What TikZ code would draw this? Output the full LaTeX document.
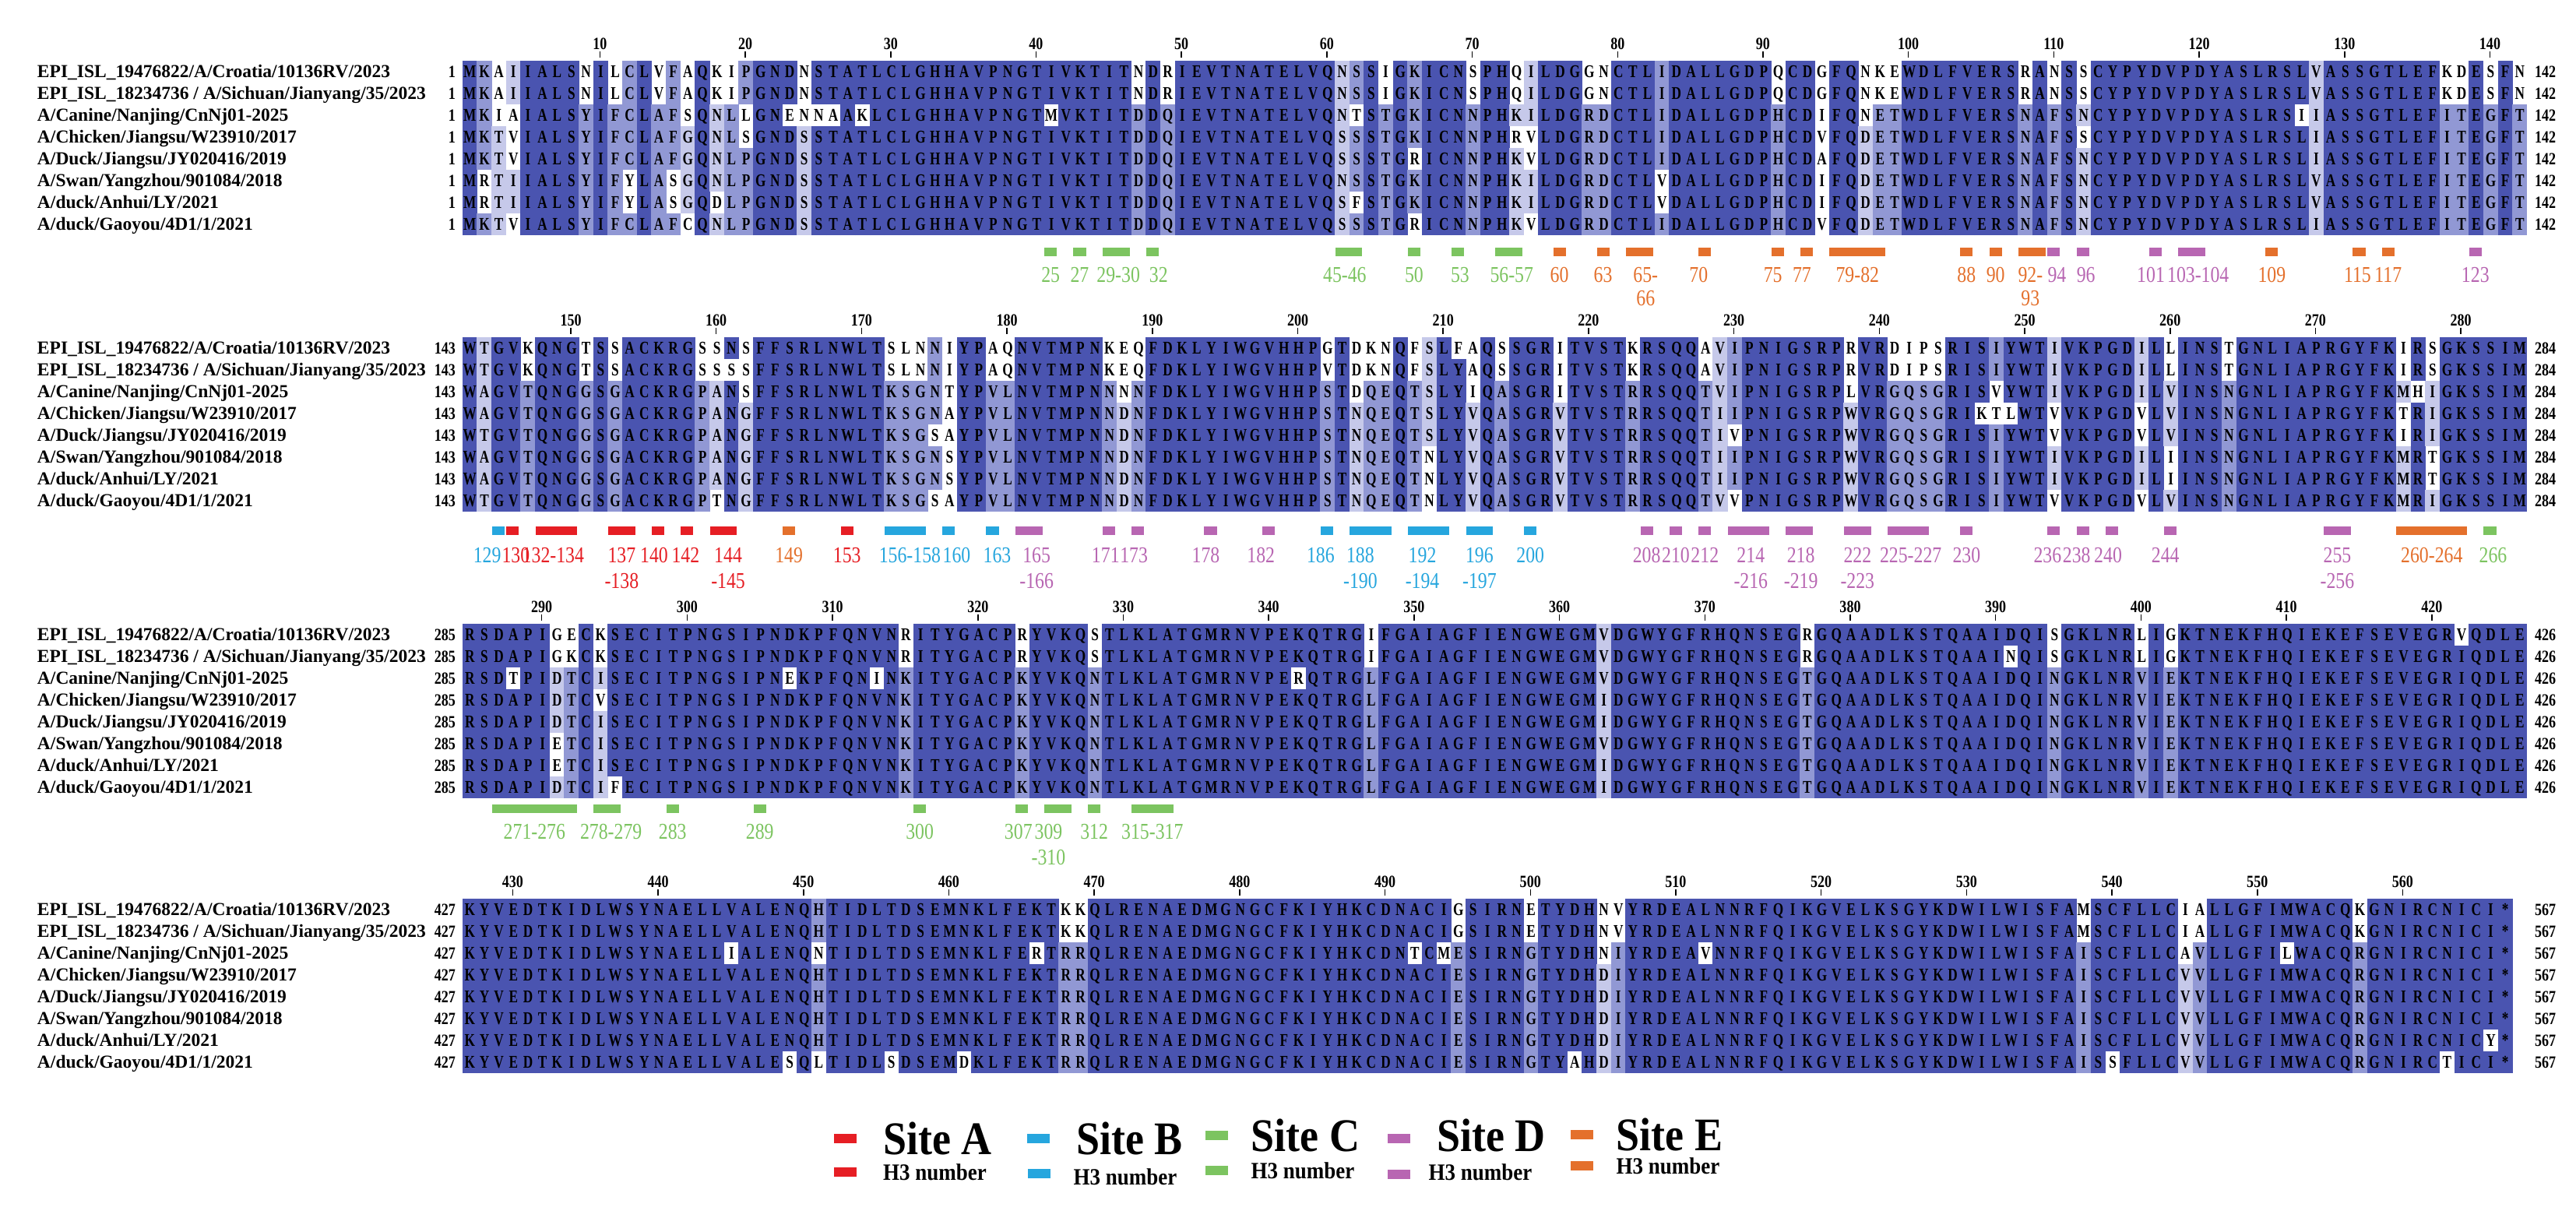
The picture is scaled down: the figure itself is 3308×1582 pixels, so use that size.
\documentclass[tikz,border=0pt]{standalone}
\usepackage{fontspec}
\setmainfont{Liberation Serif}
\newfontfamily\resfont{Liberation Serif}[FakeStretch=0.75]
\newfontfamily\lblfont{Liberation Serif}[FakeStretch=0.82]
\newfontfamily\legfont{Liberation Serif}[FakeStretch=0.9]
\usetikzlibrary{positioning}

\definecolor{alnDark}{RGB}{74,84,176}
\definecolor{alnMid}{RGB}{145,152,212}
\definecolor{alnLight}{RGB}{198,201,234}
\definecolor{siteA}{RGB}{230,30,36}
\definecolor{siteB}{RGB}{38,166,222}
\definecolor{siteC}{RGB}{124,196,96}
\definecolor{siteD}{RGB}{184,102,178}
\definecolor{siteE}{RGB}{228,112,44}

\tikzset{
    x=0.2pt, y=-0.2pt, % one unit is one pixel of the figure, y grows downwards
    res/.style={font=\resfont\bfseries\fontsize{4.6pt}{4.6pt}\selectfont, inner sep=0pt, anchor=base west}, % one row of residues
    seqname/.style={font=\bfseries\fontsize{4.7pt}{4.7pt}\selectfont, inner sep=0pt, anchor=base west}, % strain names
    numlbl/.style={font=\lblfont\bfseries\fontsize{4.4pt}{4.4pt}\selectfont, inner sep=0pt}, % alignment positions
    sitelbl/.style={font=\lblfont\fontsize{5.8pt}{5.8pt}\selectfont, inner sep=0pt}, % H3 numbers under the bars
    tick/.style={line width=0.3pt},
    legbar/.style={minimum width=5.8pt, minimum height=2.3pt, inner sep=0pt}, % legend swatch
    legsite/.style={font=\legfont\bfseries\fontsize{12pt}{12pt}\selectfont, inner sep=0pt},
    legnum/.style={font=\legfont\bfseries\fontsize{6pt}{6pt}\selectfont, inner sep=0pt},
}

% residues are kept one per macro: \alnrow{row}{block}{residues}
\ExplSyntaxOn
\int_new:N \l_aln_col_int
\int_new:N \l_aln_cnt_int
\NewDocumentCommand \alnrow { m m m }
  {
    \int_zero:N \l_aln_col_int
    \tl_map_inline:nn {#3}
      {
        \int_incr:N \l_aln_col_int
        \tl_gset:cn { g_aln_#1_#2_ \int_use:N \l_aln_col_int _tl } {##1}
      }
  }
\cs_new:Npn \resat #1#2#3 { \tl_use:c { g_aln_#3_#1_#2_tl } }
% shading of one cell from how many rows share its residue
\cs_new_protected:Npn \resshade #1#2#3
  {
    \int_zero:N \l_aln_cnt_int
    \int_step_inline:nn { 8 }
      {
        \tl_if_eq:ccT { g_aln_#3_#1_#2_tl } { g_aln_##1_#1_#2_tl }
          { \int_incr:N \l_aln_cnt_int }
      }
    \int_compare:nNnTF \l_aln_cnt_int > 6
      { \tl_set:Nn \resfill {alnDark} }
      {
        \int_compare:nNnTF \l_aln_cnt_int = 6
          { \tl_set:Nn \resfill {alnMid} }
          {
            \int_compare:nNnTF \l_aln_cnt_int > 3
              { \tl_set:Nn \resfill {alnLight} }
              { \tl_set:Nn \resfill {} }
          }
      }
  }
% one shaded row: \alnline{block}{row}{columns}
\NewDocumentCommand \alnline { m m m }
  {
    \int_step_inline:nn {#3}
      {
        \resshade {#1} {##1} {#2}
        \hbox_to_wd:nn { 3.734pt }
          {
            \tl_if_empty:NF \resfill
              {
                \hbox_overlap_right:n
                  { \kern -0.05pt \color{\resfill} \rule[-1.22pt]{3.834pt}{5.66pt} }
              }
            \hfil \resat {#1} {##1} {#2} \hfil
          }
      }
  }
\ExplSyntaxOff

\alnrow{1}{1}{MKAIIALSNILCLVFAQKIPGNDNSTATLCLGHHAVPNGTIVKTITNDRIEVTNATELVQNSSIGKICNSPHQILDGGNCTLIDALLGDPQCDGFQNKEWDLFVERSRANSSCYPYDVPDYASLRSLVASSGTLEFKDESFN}
\alnrow{2}{1}{MKAIIALSNILCLVFAQKIPGNDNSTATLCLGHHAVPNGTIVKTITNDRIEVTNATELVQNSSIGKICNSPHQILDGGNCTLIDALLGDPQCDGFQNKEWDLFVERSRANSSCYPYDVPDYASLRSLVASSGTLEFKDESFN}
\alnrow{3}{1}{MKIAIALSYIFCLAFSQNLLGNENNAAKLCLGHHAVPNGTMVKTITDDQIEVTNATELVQNTSTGKICNNPHKILDGRDCTLIDALLGDPHCDIFQNETWDLFVERSNAFSNCYPYDVPDYASLRSIIASSGTLEFITEGFT}
\alnrow{4}{1}{MKTVIALSYIFCLAFGQNLSGNDSSTATLCLGHHAVPNGTIVKTITDDQIEVTNATELVQSSSTGKICNNPHRVLDGRDCTLIDALLGDPHCDVFQDETWDLFVERSNAFSSCYPYDVPDYASLRSLIASSGTLEFITEGFT}
\alnrow{5}{1}{MKTVIALSYIFCLAFGQNLPGNDSSTATLCLGHHAVPNGTIVKTITDDQIEVTNATELVQSSSTGRICNNPHKVLDGRDCTLIDALLGDPHCDAFQDETWDLFVERSNAFSNCYPYDVPDYASLRSLIASSGTLEFITEGFT}
\alnrow{6}{1}{MRTIIALSYIFYLASGQNLPGNDSSTATLCLGHHAVPNGTIVKTITDDQIEVTNATELVQNSSTGKICNNPHKILDGRDCTLVDALLGDPHCDIFQDETWDLFVERSNAFSNCYPYDVPDYASLRSLVASSGTLEFITEGFT}
\alnrow{7}{1}{MRTIIALSYIFYLASGQDLPGNDSSTATLCLGHHAVPNGTIVKTITDDQIEVTNATELVQSFSTGKICNNPHKILDGRDCTLVDALLGDPHCDIFQDETWDLFVERSNAFSNCYPYDVPDYASLRSLVASSGTLEFITEGFT}
\alnrow{8}{1}{MKTVIALSYIFCLAFCQNLPGNDSSTATLCLGHHAVPNGTIVKTITDDQIEVTNATELVQSSSTGRICNNPHKVLDGRDCTLIDALLGDPHCDVFQDETWDLFVERSNAFSNCYPYDVPDYASLRSLIASSGTLEFITEGFT}

\alnrow{1}{2}{WTGVKQNGTSSACKRGSSNSFFSRLNWLTSLNNIYPAQNVTMPNKEQFDKLYIWGVHHPGTDKNQFSLFAQSSGRITVSTKRSQQAVIPNIGSRPRVRDIPSRISIYWTIVKPGDILLINSTGNLIAPRGYFKIRSGKSSIM}
\alnrow{2}{2}{WTGVKQNGTSSACKRGSSSSFFSRLNWLTSLNNIYPAQNVTMPNKEQFDKLYIWGVHHPVTDKNQFSLYAQSSGRITVSTKRSQQAVIPNIGSRPRVRDIPSRISIYWTIVKPGDILLINSTGNLIAPRGYFKIRSGKSSIM}
\alnrow{3}{2}{WAGVTQNGGSGACKRGPANSFFSRLNWLTKSGNTYPVLNVTMPNNNNFDKLYIWGVHHPSTDQEQTSLYIQASGRITVSTRRSQQTVIPNIGSRPLVRGQSGRISVYWTIVKPGDILVINSNGNLIAPRGYFKMHIGKSSIM}
\alnrow{4}{2}{WAGVTQNGGSGACKRGPANGFFSRLNWLTKSGNAYPVLNVTMPNNDNFDKLYIWGVHHPSTNQEQTSLYVQASGRVTVSTRRSQQTIIPNIGSRPWVRGQSGRIKTLWTVVKPGDVLVINSNGNLIAPRGYFKTRIGKSSIM}
\alnrow{5}{2}{WTGVTQNGGSGACKRGPANGFFSRLNWLTKSGSAYPVLNVTMPNNDNFDKLYIWGVHHPSTNQEQTSLYVQASGRVTVSTRRSQQTIVPNIGSRPWVRGQSGRISIYWTVVKPGDVLVINSNGNLIAPRGYFKIRIGKSSIM}
\alnrow{6}{2}{WAGVTQNGGSGACKRGPANGFFSRLNWLTKSGNSYPVLNVTMPNNDNFDKLYIWGVHHPSTNQEQTNLYVQASGRVTVSTRRSQQTIIPNIGSRPWVRGQSGRISIYWTIVKPGDILIINSNGNLIAPRGYFKMRTGKSSIM}
\alnrow{7}{2}{WAGVTQNGGSGACKRGPANGFFSRLNWLTKSGNSYPVLNVTMPNNDNFDKLYIWGVHHPSTNQEQTNLYVQASGRVTVSTRRSQQTIIPNIGSRPWVRGQSGRISIYWTIVKPGDILIINSNGNLIAPRGYFKMRTGKSSIM}
\alnrow{8}{2}{WTGVTQNGGSGACKRGPTNGFFSRLNWLTKSGSAYPVLNVTMPNNDNFDKLYIWGVHHPSTNQEQTNLYVQASGRVTVSTRRSQQTVVPNIGSRPWVRGQSGRISIYWTVVKPGDVLVINSNGNLIAPRGYFKMRIGKSSIM}

\alnrow{1}{3}{RSDAPIGECKSECITPNGSIPNDKPFQNVNRITYGACPRYVKQSTLKLATGMRNVPEKQTRGIFGAIAGFIENGWEGMVDGWYGFRHQNSEGRGQAADLKSTQAAIDQISGKLNRLIGKTNEKFHQIEKEFSEVEGRVQDLE}
\alnrow{2}{3}{RSDAPIGKCKSECITPNGSIPNDKPFQNVNRITYGACPRYVKQSTLKLATGMRNVPEKQTRGIFGAIAGFIENGWEGMVDGWYGFRHQNSEGRGQAADLKSTQAAINQISGKLNRLIGKTNEKFHQIEKEFSEVEGRIQDLE}
\alnrow{3}{3}{RSDTPIDTCISECITPNGSIPNEKPFQNINKITYGACPKYVKQNTLKLATGMRNVPERQTRGLFGAIAGFIENGWEGMVDGWYGFRHQNSEGTGQAADLKSTQAAIDQINGKLNRVIEKTNEKFHQIEKEFSEVEGRIQDLE}
\alnrow{4}{3}{RSDAPIDTCVSECITPNGSIPNDKPFQNVNKITYGACPKYVKQNTLKLATGMRNVPEKQTRGLFGAIAGFIENGWEGMIDGWYGFRHQNSEGTGQAADLKSTQAAIDQINGKLNRVIEKTNEKFHQIEKEFSEVEGRIQDLE}
\alnrow{5}{3}{RSDAPIDTCISECITPNGSIPNDKPFQNVNKITYGACPKYVKQNTLKLATGMRNVPEKQTRGLFGAIAGFIENGWEGMIDGWYGFRHQNSEGTGQAADLKSTQAAIDQINGKLNRVIEKTNEKFHQIEKEFSEVEGRIQDLE}
\alnrow{6}{3}{RSDAPIETCISECITPNGSIPNDKPFQNVNKITYGACPKYVKQNTLKLATGMRNVPEKQTRGLFGAIAGFIENGWEGMVDGWYGFRHQNSEGTGQAADLKSTQAAIDQINGKLNRVIEKTNEKFHQIEKEFSEVEGRIQDLE}
\alnrow{7}{3}{RSDAPIETCISECITPNGSIPNDKPFQNVNKITYGACPKYVKQNTLKLATGMRNVPEKQTRGLFGAIAGFIENGWEGMIDGWYGFRHQNSEGTGQAADLKSTQAAIDQINGKLNRVIEKTNEKFHQIEKEFSEVEGRIQDLE}
\alnrow{8}{3}{RSDAPIDTCIFECITPNGSIPNDKPFQNVNKITYGACPKYVKQNTLKLATGMRNVPEKQTRGLFGAIAGFIENGWEGMIDGWYGFRHQNSEGTGQAADLKSTQAAIDQINGKLNRVIEKTNEKFHQIEKEFSEVEGRIQDLE}

\alnrow{1}{4}{KYVEDTKIDLWSYNAELLVALENQHTIDLTDSEMNKLFEKTKKQLRENAEDMGNGCFKIYHKCDNACIGSIRNETYDHNVYRDEALNNRFQIKGVELKSGYKDWILWISFAMSCFLLCIALLGFIMWACQKGNIRCNICI*}
\alnrow{2}{4}{KYVEDTKIDLWSYNAELLVALENQHTIDLTDSEMNKLFEKTKKQLRENAEDMGNGCFKIYHKCDNACIGSIRNETYDHNVYRDEALNNRFQIKGVELKSGYKDWILWISFAMSCFLLCIALLGFIMWACQKGNIRCNICI*}
\alnrow{3}{4}{KYVEDTKIDLWSYNAELLIALENQNTIDLTDSEMNKLFERTRRQLRENAEDMGNGCFKIYHKCDNTCMESIRNGTYDHNIYRDEAVNNRFQIKGVELKSGYKDWILWISFAISCFLLCAVLLGFILWACQRGNIRCNICI*}
\alnrow{4}{4}{KYVEDTKIDLWSYNAELLVALENQHTIDLTDSEMNKLFEKTRRQLRENAEDMGNGCFKIYHKCDNACIESIRNGTYDHDIYRDEALNNRFQIKGVELKSGYKDWILWISFAISCFLLCVVLLGFIMWACQRGNIRCNICI*}
\alnrow{5}{4}{KYVEDTKIDLWSYNAELLVALENQHTIDLTDSEMNKLFEKTRRQLRENAEDMGNGCFKIYHKCDNACIESIRNGTYDHDIYRDEALNNRFQIKGVELKSGYKDWILWISFAISCFLLCVVLLGFIMWACQRGNIRCNICI*}
\alnrow{6}{4}{KYVEDTKIDLWSYNAELLVALENQHTIDLTDSEMNKLFEKTRRQLRENAEDMGNGCFKIYHKCDNACIESIRNGTYDHDIYRDEALNNRFQIKGVELKSGYKDWILWISFAISCFLLCVVLLGFIMWACQRGNIRCNICI*}
\alnrow{7}{4}{KYVEDTKIDLWSYNAELLVALENQHTIDLTDSEMNKLFEKTRRQLRENAEDMGNGCFKIYHKCDNACIESIRNGTYDHDIYRDEALNNRFQIKGVELKSGYKDWILWISFAISCFLLCVVLLGFIMWACQRGNIRCNICY*}
\alnrow{8}{4}{KYVEDTKIDLWSYNAELLVALESQLTIDLSDSEMDKLFEKTRRQLRENAEDMGNGCFKIYHKCDNACIESIRNGTYAHDIYRDEALNNRFQIKGVELKSGYKDWILWISFAISSFLLCVVLLGFIMWACQRGNIRCTICI*}

\newcommand*\nmA{EPI\_ISL\_19476822/A/Croatia/10136RV/2023}
\newcommand*\nmB{EPI\_ISL\_18234736 / A/Sichuan/Jianyang/35/2023}
\newcommand*\nmC{A/Canine/Nanjing/CnNj01-2025}
\newcommand*\nmD{A/Chicken/Jiangsu/W23910/2017}
\newcommand*\nmE{A/Duck/Jiangsu/JY020416/2019}
\newcommand*\nmF{A/Swan/Yangzhou/901084/2018}
\newcommand*\nmG{A/duck/Anhui/LY/2021}
\newcommand*\nmH{A/duck/Gaoyou/4D1/1/2021}

% bar under the alignment: \sbar{first col}{last col}{colour}{label}{second line}{label shift}
\newcommand{\sbar}[6]{%
  \fill[#3] ({593+(#1-1)*18.67+1.3},{\bary-5.5}) rectangle ({593+#2*18.67-1.3},{\bary+5.5});
  \node[sitelbl, text=#3] at ({593+(#1+#2-1)/2*18.67+#6},{\lbly}) {#4};
  \if\relax\detokenize{#5}\relax\else
    \node[sitelbl, text=#3] at ({593+(#1+#2-1)/2*18.67+#6},{\lblyy}) {#5};
  \fi}

\begin{document}
\begin{tikzpicture}
\useasboundingbox (0,0) rectangle (3308,1582);
\fill[white] (0,0) rectangle (3308,1582);

% shaded residues, one node per row
\foreach \bk/\yt/\nc in {1/78/142, 2/433/142, 3/801/142, 4/1154/141}{
  \foreach \rw in {1,...,8}{
    \node[res] (sq\bk\rw) at (593,{\yt+22+(\rw-1)*28}) {\alnline{\bk}{\rw}{\nc}};
  }
}

% position numbers and ticks above each block
\foreach \bk/\yt/\cz in {1/78/10, 2/433/8, 3/801/6, 4/1154/4}{
  \foreach \k in {0,...,13}{
    \pgfmathtruncatemacro\cl{\cz+10*\k}
    \pgfmathtruncatemacro\posn{(\bk-1)*142+\cl}
    \draw[tick] ({593+(\cl-0.5)*18.67},{\yt-12}) -- ({593+(\cl-0.5)*18.67},{\yt-4});
    \node[numlbl] at ({593+(\cl-0.5)*18.67},{\yt-22}) {\posn};
  }
}

% strain names and first/last numbers
\foreach \bk/\yt/\fst/\lst in {1/78/1/142, 2/433/143/284, 3/801/285/426, 4/1154/427/567}{
  \foreach \rw/\nm in {1/\nmA, 2/\nmB, 3/\nmC, 4/\nmD, 5/\nmE, 6/\nmF, 7/\nmG, 8/\nmH}{
    \node[seqname] (nm\bk\rw) at (47,{\yt+22+(\rw-1)*28}) {\nm};
    \node[numlbl, anchor=base east] (st\bk\rw) at (586,{\yt+22+(\rw-1)*28}) {\fst};
    \node[numlbl, anchor=base west] (en\bk\rw) at (3254,{\yt+22+(\rw-1)*28}) {\lst};
  }
}

% antigenic sites, block 1
\def\bary{324}\def\lbly{353}\def\lblyy{383}
\sbar{41}{41}{siteC}{25}{}{0}
\sbar{43}{43}{siteC}{27}{}{0}
\sbar{45}{46}{siteC}{29-30}{}{3}
\sbar{48}{48}{siteC}{32}{}{8}
\sbar{61}{62}{siteC}{45-46}{}{-5}
\sbar{66}{66}{siteC}{50}{}{0}
\sbar{69}{69}{siteC}{53}{}{3}
\sbar{72}{73}{siteC}{56-57}{}{4}
\sbar{76}{76}{siteE}{60}{}{0}
\sbar{79}{79}{siteE}{63}{}{0}
\sbar{81}{82}{siteE}{65-}{66}{8}
\sbar{86}{86}{siteE}{70}{}{-8}
\sbar{91}{91}{siteE}{75}{}{-6}
\sbar{93}{93}{siteE}{77}{}{-6}
\sbar{95}{98}{siteE}{79-82}{}{0}
\sbar{104}{104}{siteE}{88}{}{0}
\sbar{106}{106}{siteE}{90}{}{0}
\sbar{108}{109}{siteE}{92-}{93}{-2}
\sbar{110}{110}{siteD}{94}{}{4}
\sbar{112}{112}{siteD}{96}{}{4}
\sbar{117}{117}{siteD}{101}{}{-6}
\sbar{119}{120}{siteD}{103-104}{}{8}
\sbar{125}{125}{siteE}{109}{}{0}
\sbar{131}{131}{siteE}{115}{}{-2}
\sbar{133}{133}{siteE}{117}{}{0}
\sbar{139}{139}{siteD}{123}{}{0}

% block 2
\def\bary{682}\def\lbly{713}\def\lblyy{746}
\sbar{3}{3}{siteB}{129}{}{-14}
\sbar{4}{4}{siteA}{130}{}{4}
\sbar{6}{8}{siteA}{132-134}{}{-4}
\sbar{11}{12}{siteA}{137}{-138}{0}
\sbar{14}{14}{siteA}{140}{}{-5}
\sbar{16}{16}{siteA}{142}{}{-2}
\sbar{18}{19}{siteA}{144}{-145}{6}
\sbar{23}{23}{siteE}{149}{}{0}
\sbar{27}{27}{siteA}{153}{}{0}
\sbar{30}{32}{siteB}{156-158}{}{6}
\sbar{34}{34}{siteB}{160}{}{10}
\sbar{37}{37}{siteB}{163}{}{6}
\sbar{39}{40}{siteD}{165}{-166}{10}
\sbar{45}{45}{siteD}{171}{}{-4}
\sbar{47}{47}{siteD}{173}{}{-5}
\sbar{52}{52}{siteD}{178}{}{-6}
\sbar{56}{56}{siteD}{182}{}{-10}
\sbar{60}{60}{siteB}{186}{}{-8}
\sbar{62}{64}{siteB}{188}{-190}{-13}
\sbar{66}{68}{siteB}{192}{-194}{-8}
\sbar{70}{71}{siteB}{196}{-197}{0}
\sbar{74}{74}{siteB}{200}{}{0}
\sbar{82}{82}{siteD}{208}{}{0}
\sbar{84}{84}{siteD}{210}{}{0}
\sbar{86}{86}{siteD}{212}{}{0}
\sbar{88}{90}{siteD}{214}{-216}{3}
\sbar{92}{93}{siteD}{218}{-219}{2}
\sbar{96}{97}{siteD}{222}{-223}{0}
\sbar{99}{101}{siteD}{225-227}{}{3}
\sbar{104}{104}{siteD}{230}{}{0}
\sbar{110}{110}{siteD}{236}{}{-8}
\sbar{112}{112}{siteD}{238}{}{-8}
\sbar{114}{114}{siteD}{240}{}{-5}
\sbar{118}{118}{siteD}{244}{}{-6}
\sbar{129}{130}{siteD}{255}{-256}{0}
\sbar{134}{138}{siteE}{260-264}{}{0}
\sbar{140}{140}{siteC}{266}{}{4}

% block 3
\def\bary{1039}\def\lbly{1068}\def\lblyy{1101}
\sbar{3}{8}{siteC}{271-276}{}{0}
\sbar{10}{11}{siteC}{278-279}{}{5}
\sbar{15}{15}{siteC}{283}{}{0}
\sbar{21}{21}{siteC}{289}{}{0}
\sbar{32}{32}{siteC}{300}{}{0}
\sbar{39}{39}{siteC}{307}{}{-4}
\sbar{41}{42}{siteC}{309}{-310}{-12}
\sbar{44}{44}{siteC}{312}{}{0}
\sbar{47}{49}{siteC}{315-317}{}{0}

% legend
\node[legbar, fill=siteA] (legA) at (1085,1462) {};
\node[legsite, right=6.5pt of legA] (txtA) {Site A};
\node[legbar, fill=siteA] (numA) at (1085,1505) {};
\node[legnum, right=6.5pt of numA] (lnA) {H3 number};
\node[legbar, fill=siteB] (legB) at (1333,1462) {};
\node[legsite, right=6.5pt of legB] (txtB) {Site B};
\node[legbar, fill=siteB] (numB) at (1334,1507) {};
\node[legnum, right=5.6pt of numB, yshift=-0.8pt] (lnB) {H3 number};
\node[legbar, fill=siteC] (legC) at (1562,1458) {};
\node[legsite, right=5.6pt of legC] (txtC) {Site C};
\node[legbar, fill=siteC] (numC) at (1562,1503) {};
\node[legnum, right=5.6pt of numC] (lnC) {H3 number};
\node[legbar, fill=siteD] (legD) at (1796,1462) {};
\node[legsite, right=6.5pt of legD, yshift=0.8pt] (txtD) {Site D};
\node[legbar, fill=siteD] (numD) at (1796,1508) {};
\node[legnum, right=4.4pt of numD, yshift=0.6pt] (lnD) {H3 number};
\node[legbar, fill=siteE] (legE) at (2031,1457) {};
\node[legsite, right=5.6pt of legE] (txtE) {Site E};
\node[legbar, fill=siteE] (numE) at (2031,1497) {};
\node[legnum, right=5.6pt of numE] (lnE) {H3 number};
\end{tikzpicture}
\end{document}
